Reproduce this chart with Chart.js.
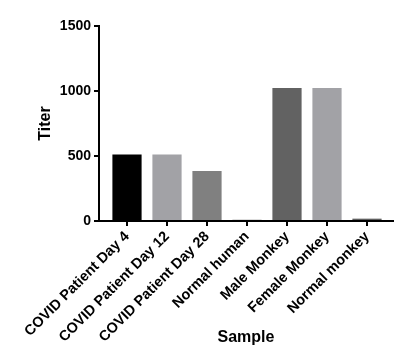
<!DOCTYPE html>
<html>
<head>
<meta charset="utf-8">
<script src="https://cdn.jsdelivr.net/npm/chart.js@4/dist/chart.umd.min.js"></script>
<style>
  html, body { margin: 0; padding: 0; background: #fff; }
  #wrap { width: 400px; height: 364px; }
</style>
</head>
<body>
<div id="wrap"><canvas id="titerChart" width="400" height="364"></canvas></div>
<script>
// datos
const samples = ["COVID Patient Day 4", "COVID Patient Day 12", "COVID Patient Day 28",
  "Normal human", "Male Monkey", "Female Monkey", "Normal monkey"];
const titers = [512, 512, 384, 14, 1024, 1024, 18];
const barColors = ["#000000", "#a2a2a6", "#808080", "#d6d6d6", "#626262", "#a2a2a6", "#5e5e5e"];
const yTicks = [0, 500, 1000, 1500];

const FONT = "Arial, 'Liberation Sans', sans-serif";

const ctx = document.getElementById("titerChart").getContext("2d");

new Chart(ctx, {
  type: "bar",
  data: {
    datasets: [{
      label: "Titer",
      data: titers.map((v, i) => ({ x: i, y: v })),
      backgroundColor: barColors,
      borderWidth: 0,
      categoryPercentage: 1,
      barPercentage: 0.73
    }]
  },
  options: {
    responsive: false,
    animation: false,
    layout: { padding: { top: 26, right: 7, left: 0, bottom: 0 } },
    plugins: { legend: { display: false }, tooltip: { enabled: false } },
    scales: {
      x: {
        type: "linear",
        offset: false,
        min: -0.7,
        max: 6.65,
        afterBuildTicks: s => { s.ticks = samples.map((_, i) => ({ value: i })); },
        afterFit: s => { s.height = 143; },
        border: { display: true, color: "#000", width: 2 },
        grid: { offset: false, drawOnChartArea: false, drawTicks: true, tickLength: 5, color: "#000", lineWidth: 2 },
        ticks: {
          autoSkip: false,
          minRotation: 45,
          maxRotation: 45,
          padding: 2,
          color: "#000",
          font: { family: FONT, size: 14.5, weight: "bold" },
          callback: v => samples[v]
        },
        title: {
          display: true,
          text: "Sample",
          color: "#000",
          padding: { top: 0, bottom: 17 },
          font: { family: FONT, size: 16, weight: "bold" }
        }
      },
      y: {
        min: 0,
        max: 1500,
        afterBuildTicks: s => { s.ticks = yTicks.map(v => ({ value: v })); },
        afterFit: s => { s.width = 99; },
        border: { display: true, color: "#000", width: 2 },
        grid: { drawOnChartArea: false, drawTicks: true, tickLength: 5, color: "#000", lineWidth: 2 },
        ticks: {
          padding: 3,
          color: "#000",
          font: { family: FONT, size: 14, weight: "bold" },
          callback: v => String(v)
        },
        title: {
          display: true,
          text: "Titer",
          color: "#000",
          padding: { top: 36, bottom: 0 },
          font: { family: FONT, size: 16, weight: "bold" }
        }
      }
    }
  }
});
</script>
</body>
</html>
